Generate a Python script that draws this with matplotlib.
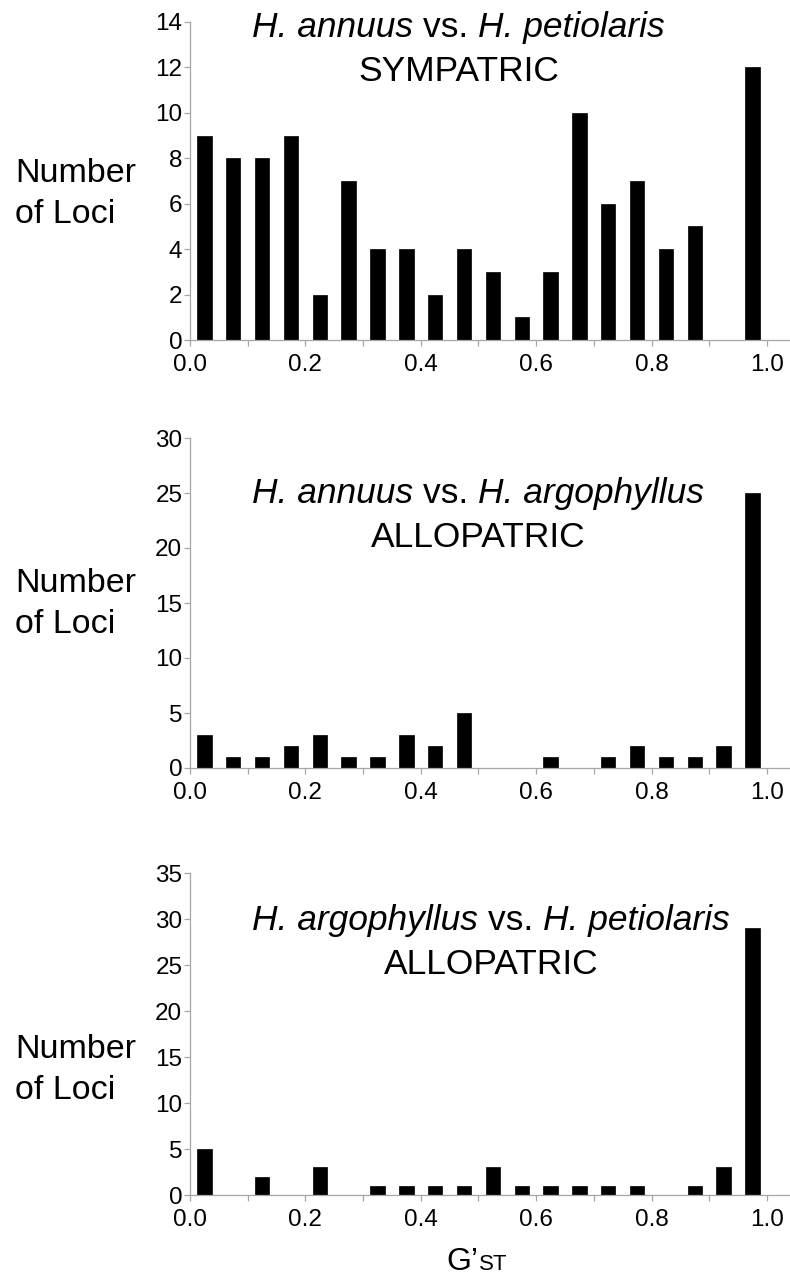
import matplotlib
matplotlib.use("Agg")
import matplotlib.pyplot as plt
from matplotlib.ticker import MultipleLocator, FormatStrFormatter

plt.rcParams["font.family"] = ["Liberation Sans", "DejaVu Sans"]

# G'ST bin centres (20 bins of width 0.05)
bin_centers = [0.025 + 0.05 * i for i in range(20)]

sympatric_ann_pet = [9, 8, 8, 9, 2, 7, 4, 4, 2, 4, 3, 1, 3, 10, 6, 7, 4, 5, 0, 12]
allopatric_ann_arg = [3, 1, 1, 2, 3, 1, 1, 3, 2, 5, 0, 0, 1, 0, 1, 2, 1, 1, 2, 25]
allopatric_arg_pet = [5, 0, 2, 0, 3, 0, 1, 1, 1, 1, 3, 1, 1, 1, 1, 1, 0, 1, 3, 29]

species_a = ["H. annuus", "H. annuus", "H. argophyllus"]
species_b = ["H. petiolaris", "H. argophyllus", "H. petiolaris"]
ranges = ["SYMPATRIC", "ALLOPATRIC", "ALLOPATRIC"]
y_max = [14, 30, 35]
y_step = [2, 5, 5]

W, H = 790, 1279
# panel pixel boxes: (top, bottom)
boxes = [(22, 340), (438, 768), (873, 1195)]
title_base = [(37, 81), (503, 547), (930, 974)]
ylab_base = [182, 592, 1058]
FS = 25.5

fig = plt.figure(figsize=(W / 100, H / 100), dpi=100)
series = [sympatric_ann_pet, allopatric_ann_arg, allopatric_arg_pet]
spine_col = "#a6a6a6"


def fx(px):
    return px / W


def fy(py):
    return (H - py) / H


for i, (vals, (top, bot)) in enumerate(zip(series, boxes)):
    ax = fig.add_axes([fx(190), fy(bot), 600 / W, (bot - top) / H])
    ax.bar(bin_centers, vals, width=0.025, color="black", edgecolor="black", linewidth=0.5)
    ax.set_xlim(0, 1.04)
    ax.set_ylim(0, y_max[i])
    ax.yaxis.set_major_locator(MultipleLocator(y_step[i]))
    ax.xaxis.set_major_locator(MultipleLocator(0.2))
    ax.xaxis.set_minor_locator(MultipleLocator(0.1))
    ax.xaxis.set_major_formatter(FormatStrFormatter("%.1f"))
    for s in ["top", "right"]:
        ax.spines[s].set_visible(False)
    for s in ["left", "bottom"]:
        ax.spines[s].set_color(spine_col)
        ax.spines[s].set_linewidth(0.9)
    ax.tick_params(axis="x", which="both", length=4, width=0.9, color=spine_col,
                   labelsize=17.5, pad=6, direction="out")
    ax.tick_params(axis="y", length=4.5, width=0.9, color=spine_col,
                   labelsize=17.5, pad=1, direction="out")
    fig.text(fx(15), fy(ylab_base[i]), "Number", fontsize=24.5, ha="left", va="baseline")
    fig.text(fx(15), fy(ylab_base[i] + 41), "of Loci", fontsize=24.5, ha="left", va="baseline")

# titles: italic species names, regular "vs." and range label centred below
fig.canvas.draw()
renderer = fig.canvas.get_renderer()
for i in range(3):
    b1, b2 = title_base[i]
    x = 252
    parts = [(species_a[i] + " ", "italic"), ("vs. ", "normal"), (species_b[i], "italic")]
    for txt, style in parts:
        t = fig.text(fx(x), fy(b1), txt, fontsize=FS, fontstyle=style, ha="left", va="baseline")
        x = t.get_window_extent(renderer).x1
    center = (252 + x) / 2
    fig.text(fx(center), fy(b2), ranges[i], fontsize=FS, ha="center", va="baseline")

# x label G'ST with small ST
g = fig.text(fx(446), fy(1270), "G’", fontsize=23, ha="left", va="baseline")
gx = g.get_window_extent(renderer).x1
fig.text(fx(gx + 1), fy(1270), "ST", fontsize=16, ha="left", va="baseline")

fig.savefig("out.png", dpi=100)
